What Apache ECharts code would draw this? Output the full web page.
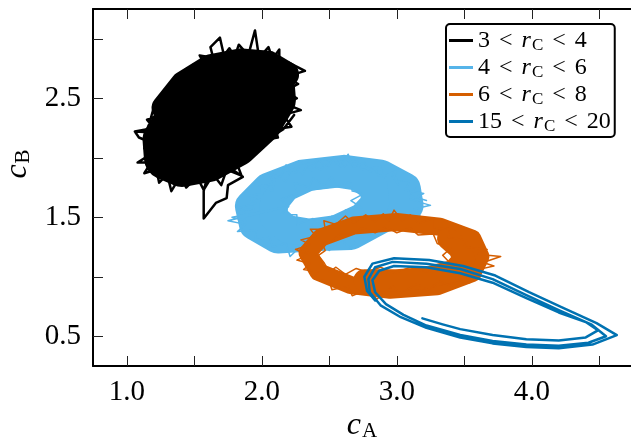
<!DOCTYPE html>
<html>
<head>
<meta charset="utf-8">
<script src="https://cdn.jsdelivr.net/npm/echarts@6/dist/echarts.min.js"></script>
<style>
  html, body { margin: 0; padding: 0; background: #fff; }
  #chart { width: 631px; height: 442px; }
</style>
</head>
<body>
<div id="chart"></div>
<script>
const SERIF = '"Liberation Serif", "DejaVu Serif", serif';

// axes
const xRange = [0.75, 4.75];
const yRange = [0.25, 3.25];
const xTickValues = [1.0, 1.5, 2.0, 2.5, 3.0, 3.5, 4.0, 4.5];
const xLabelValues = [1.0, 2.0, 3.0, 4.0];
const yTickValues = [0.5, 1.0, 1.5, 2.0, 2.5, 3.0];
const yLabelValues = [0.5, 1.5, 2.5];

// legend
const seriesNames = ['3 < rC < 4', '4 < rC < 6', '6 < rC < 8', '15 < rC < 20'];
const legendBounds = [['3', '4'], ['4', '6'], ['6', '8'], ['15', '20']];
const seriesColors = ['#000000', '#56B4E9', '#D55E00', '#0072B2'];

// 3 < rC < 4 : dense cloud (solid centre + jagged trajectory)
const blackCore = [[2.08,2.63],[2.09,2.49],[1.99,2.30],[1.81,2.11],[1.60,1.98],[1.41,1.94],[1.29,2.00],[1.28,2.15],[1.38,2.34],[1.56,2.52],[1.77,2.65],[1.96,2.69],[2.08,2.63],[1.96,2.53],[1.41,2.10]];
const blackFill = [[1.28,2.42],[1.42,2.62],[1.62,2.76],[1.85,2.81],[2.05,2.79],[2.18,2.70]];
const blackTrace = [
  [1.06,2.22],[1.20,2.25],[1.15,2.32],[1.26,2.36],[1.22,2.44],[1.31,2.47],[1.27,2.55],[1.38,2.56],[1.34,2.62],[1.44,2.64],
  [1.39,2.71],[1.52,2.72],[1.49,2.78],[1.58,2.78],[1.54,2.86],[1.64,2.84],[1.62,2.93],[1.69,3.01],[1.72,2.86],[1.76,2.92],
  [1.80,2.85],[1.83,2.95],[1.90,2.86],[1.95,3.07],[1.98,2.84],[2.05,2.93],[2.08,2.83],[2.13,2.91],[2.13,2.78],[2.20,2.80],
  [2.32,2.73],[2.18,2.68],[2.27,2.62],[2.17,2.56],[2.26,2.50],[2.18,2.45],[2.29,2.40],[2.16,2.36],[2.22,2.26],[2.10,2.24],
  [2.12,2.17],[2.01,2.15],[1.96,2.07],[1.90,2.10],[1.87,1.97],[1.80,2.00],[1.85,1.85],[1.74,1.90],[1.70,1.77],[1.64,1.86],
  [1.57,1.73],[1.52,1.84],[1.44,1.75],[1.40,1.85],[1.33,1.72],[1.30,1.86],[1.24,1.79],[1.22,1.90],[1.13,1.87],[1.18,1.96],
  [1.08,1.96],[1.18,2.03],[1.13,2.08],[1.20,2.12],[1.09,2.17],[1.06,2.22],
  [1.40,2.20],[1.62,1.95],[1.57,1.72],[1.57,1.49],[1.66,1.62],[1.74,1.66],[1.75,1.77],[1.86,1.84],[1.72,1.95],
  [1.98,2.40],[2.20,2.60],[2.10,2.80],[1.88,2.88],[1.66,2.84],[1.48,2.74],[1.32,2.58],[1.20,2.42],[1.16,2.26],[1.18,2.10],
  [1.22,1.94],[1.32,1.84],[1.48,1.82],[1.66,1.86],[1.82,1.96],[2.02,2.14],[2.16,2.24],[2.24,2.36]
];

// 4 < rC < 6 : noisy ring
const skyCoreOuter = [[3.08,1.60],[3.06,1.74],[2.88,1.85],[2.61,1.89],[2.30,1.85],[2.05,1.74],[1.92,1.59],[1.95,1.44],[2.12,1.33],[2.42,1.35],[2.66,1.36],[2.92,1.52],[3.08,1.60]];
const skyCoreInner = [[2.84,1.62],[2.83,1.75],[2.71,1.84],[2.54,1.87],[2.35,1.84],[2.18,1.75],[2.09,1.62],[2.09,1.50],[2.19,1.40],[2.36,1.37],[2.55,1.40],[2.74,1.50],[2.84,1.62]];
const skyTrace = [
  [1.75,1.47],[1.90,1.52],[1.83,1.58],[1.96,1.62],[1.90,1.68],[2.01,1.70],[1.97,1.76],[2.09,1.78],[2.05,1.87],[2.14,1.84],
  [2.18,1.94],[2.25,1.87],[2.30,1.96],[2.37,1.89],[2.42,1.99],[2.48,1.91],[2.54,2.00],[2.58,1.93],[2.64,2.03],[2.68,1.92],
  [2.76,1.96],[2.80,1.88],[2.88,1.93],[2.90,1.84],[2.99,1.89],[3.00,1.80],[3.10,1.81],[3.06,1.73],[3.20,1.70],[3.10,1.65],
  [3.25,1.60],[3.13,1.57],[3.18,1.50],[3.06,1.52],[3.08,1.44],[2.97,1.48],[2.93,1.41],[2.84,1.45],[2.78,1.31],[2.72,1.35],
  [2.66,1.24],[2.58,1.31],[2.50,1.22],[2.44,1.29],[2.36,1.19],[2.30,1.27],[2.21,1.17],[2.18,1.28],[2.08,1.25],[2.06,1.33],
  [1.95,1.31],[1.96,1.39],[1.82,1.38],[1.88,1.44],[1.75,1.47],
  [2.20,1.59],[2.14,1.65],[2.26,1.70],[2.24,1.79],[2.35,1.75],[2.38,1.83],[2.46,1.77],[2.52,1.84],[2.56,1.76],[2.66,1.80],
  [2.67,1.72],[2.76,1.70],[2.66,1.64],[2.74,1.58],[2.62,1.56],[2.64,1.47],[2.52,1.51],[2.45,1.42],[2.38,1.49],[2.26,1.44],
  [2.26,1.52],[2.14,1.52],[2.20,1.59],
  [1.78,1.50],[1.88,1.47],[1.86,1.56],[1.94,1.57],[1.92,1.66],[2.00,1.65],[2.00,1.76],[2.08,1.72],[2.10,1.84],[2.18,1.80],
  [2.22,1.91],[2.30,1.86],[2.34,1.95],[2.44,1.90],[2.50,1.98],[2.60,1.92],[2.70,1.99],[2.74,1.90],[2.84,1.92],[2.86,1.85],
  [2.96,1.86],[3.02,1.76],[3.14,1.76],[3.10,1.68],[3.22,1.64]
];

// 6 < rC < 8 : noisy ring
const orangeCoreRing = [[3.62,1.17],[3.56,1.32],[3.32,1.42],[3.00,1.46],[2.68,1.43],[2.44,1.33],[2.34,1.20],[2.42,1.04],[2.66,0.93],[2.95,0.89],[3.30,0.92],[3.56,1.03],[3.62,1.17]];
const orangeCoreArc = [[3.38,1.32],[3.46,1.24],[3.50,1.15],[3.42,1.05],[3.22,0.99],[3.00,0.97],[2.76,0.97]];
const orangeTrace = [
  [2.25,1.23],[2.36,1.27],[2.29,1.31],[2.40,1.34],[2.36,1.40],[2.47,1.40],[2.46,1.47],[2.55,1.44],[2.62,1.51],[2.68,1.45],
  [2.77,1.52],[2.84,1.46],[2.90,1.53],[2.94,1.47],[2.98,1.56],[3.04,1.47],[3.10,1.52],[3.16,1.45],[3.28,1.49],[3.28,1.41],
  [3.39,1.40],[3.38,1.33],[3.51,1.31],[3.50,1.25],[3.67,1.23],[3.60,1.19],[3.77,1.17],[3.64,1.12],[3.72,1.09],[3.60,1.06],
  [3.62,1.00],[3.52,1.00],[3.54,0.95],[3.44,0.97],[3.41,0.92],[3.32,0.96],[3.23,0.89],[3.15,0.94],[3.03,0.86],[2.97,0.92],
  [2.85,0.81],[2.80,0.90],[2.67,0.84],[2.64,0.92],[2.52,0.89],[2.50,0.96],[2.39,0.98],[2.42,1.04],[2.31,1.06],[2.36,1.11],
  [2.26,1.14],[2.34,1.18],[2.25,1.23],
  [2.42,1.18],[2.47,1.22],[2.45,1.28],[2.53,1.31],[2.58,1.36],[2.68,1.36],[2.74,1.41],[2.84,1.37],[2.92,1.42],[3.00,1.37],
  [3.10,1.41],[3.16,1.35],[3.27,1.36],[3.30,1.28],[3.40,1.24],[3.34,1.18],[3.40,1.11],[3.28,1.10],[3.22,1.04],[3.10,1.08],
  [2.98,1.03],[2.88,1.08],[2.78,1.04],[2.70,1.07],[2.62,1.02],[2.55,1.08],[2.50,1.04],[2.46,1.12],[2.42,1.18]
];

// 15 < rC < 20 : outward spiral
const blueTrace = [
  [3.19,0.65],[3.34,0.60],[3.47,0.56],[3.71,0.51],[3.96,0.475],[4.20,0.465],[4.40,0.49],[4.49,0.55],[4.40,0.62],[4.20,0.70],
  [3.96,0.82],[3.71,0.95],[3.47,1.03],[3.22,1.08],[2.98,1.09],[2.87,1.05],[2.82,0.97],[2.84,0.87],[2.92,0.77],[3.05,0.68],
  [3.22,0.59],[3.47,0.51],[3.71,0.46],[3.96,0.43],[4.20,0.42],[4.42,0.445],[4.55,0.50],[4.44,0.60],[4.20,0.72],[3.96,0.845],
  [3.71,0.98],[3.47,1.065],[3.22,1.11],[2.97,1.125],[2.84,1.08],[2.79,0.98],[2.80,0.87],[2.88,0.76],[3.03,0.66],[3.22,0.57],
  [3.47,0.49],[3.71,0.44],[3.96,0.41],[4.20,0.40],[4.45,0.43],[4.63,0.51],[4.48,0.61],[4.22,0.745],[3.98,0.87],[3.73,1.01],
  [3.49,1.09],[3.24,1.14],[2.98,1.155],[2.82,1.11],[2.76,1.00],[2.78,0.88],[2.84,0.80]
];

function mathRich(size, subSize, lineHeight) {
  const base = { fontFamily: SERIF, fontSize: size, lineHeight, color: '#000' };
  return {
    n: base,
    o: { ...base, padding: [0, 9, 0, 9] },
    i: { ...base, fontStyle: 'italic' },
    s: { fontFamily: SERIF, fontSize: subSize, lineHeight: lineHeight - 10, padding: [10, 0, 0, 1], color: '#000' }
  };
}

function lineSeries(name, colorIndex, data, width) {
  const color = seriesColors[colorIndex];
  return {
    name,
    type: 'line',
    data,
    symbol: 'none',
    silent: true,
    animation: false,
    lineStyle: { color, width, cap: 'round', join: 'round' },
    itemStyle: { color }
  };
}

function numberAxis(position, range, ticks, labels, showLabels) {
  return {
    type: 'value',
    position,
    min: range[0],
    max: range[1],
    axisLine: { show: true, onZero: false, lineStyle: { color: '#000', width: 2 } },
    axisTick: { show: true, inside: true, length: 10, customValues: ticks, lineStyle: { color: '#222', width: 1 } },
    axisLabel: {
      show: showLabels,
      customValues: labels,
      margin: 12,
      fontFamily: SERIF,
      fontSize: 29,
      color: '#000',
      formatter: v => v.toFixed(1)
    },
    splitLine: { show: false },
    minorTick: { show: false }
  };
}

const chart = echarts.init(document.getElementById('chart'), null, { renderer: 'canvas' });

chart.setOption({
  animation: false,
  backgroundColor: '#fff',
  grid: { left: 93, top: 9, width: 540, height: 357, containLabel: false, outerBoundsMode: 'none' },
  xAxis: [
    numberAxis('bottom', xRange, xTickValues, xLabelValues, true),
    numberAxis('top', xRange, xTickValues, xLabelValues, false)
  ],
  yAxis: [
    numberAxis('left', yRange, yTickValues, yLabelValues, true)
  ],
  legend: {
    data: seriesNames,
    orient: 'vertical',
    left: 446,
    top: 24,
    padding: [3, 4, 2, 3],
    itemGap: 0,
    itemWidth: 24,
    itemHeight: 3,
    icon: 'rect',
    backgroundColor: '#fff',
    borderColor: '#000',
    borderWidth: 2,
    borderRadius: 4,
    selectedMode: false,
    formatter: name => {
      const [lo, hi] = legendBounds[seriesNames.indexOf(name)];
      return `{n|${lo}}{o|<}{i|r}{s|C}{o|<}{n|${hi}}`;
    },
    textStyle: { fontFamily: SERIF, fontSize: 24, color: '#000', rich: mathRich(24, 17, 23.5) }
  },
  graphic: [
    {
      type: 'text',
      x: 18,
      y: 164,
      rotation: Math.PI / 2,
      style: { text: '{i|c}{s|B}', align: 'center', verticalAlign: 'middle', rich: mathRich(32, 21, 32) }
    },
    {
      type: 'text',
      x: 362,
      y: 426,
      style: { text: '{i|c}{s|A}', align: 'center', verticalAlign: 'middle', rich: mathRich(32, 21, 32) }
    }
  ],
  series: [
    lineSeries(seriesNames[0], 0, blackCore, 44),
    lineSeries(seriesNames[0], 0, blackFill, 26),
    lineSeries(seriesNames[0], 0, blackTrace, 2.5),
    lineSeries(seriesNames[1], 1, skyCoreOuter, 32),
    lineSeries(seriesNames[1], 1, skyCoreInner, 28),
    lineSeries(seriesNames[1], 1, skyTrace, 1.5),
    lineSeries(seriesNames[2], 2, orangeCoreRing, 18),
    lineSeries(seriesNames[2], 2, orangeCoreArc, 22),
    lineSeries(seriesNames[2], 2, orangeTrace, 1.5),
    lineSeries(seriesNames[3], 3, blueTrace, 2.5)
  ]
});
</script>
</body>
</html>
